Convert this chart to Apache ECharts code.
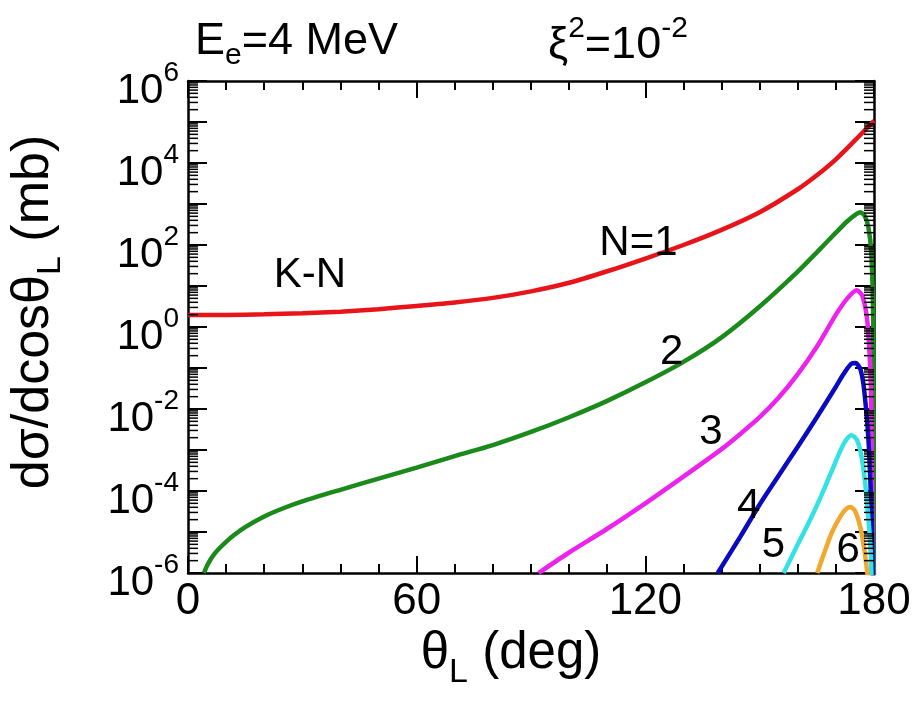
<!DOCTYPE html>
<html>
<head>
<meta charset="utf-8">
<script src="https://cdn.jsdelivr.net/npm/echarts@6/dist/echarts.min.js"></script>
<style>
html,body{margin:0;padding:0;background:#fff;}
#c{width:917px;height:711px;}
</style>
</head>
<body>
<div id="c"></div>
<script>
// ---- data (theta in degrees, cross section in mb) ----
const thetaN1 = [0,10,20,30,40,50,60,70,80,90,100,110,120,130,140,150,160,165,170,175,180];
const valN1   = [1.95,1.97,2.04,2.16,2.37,2.72,3.27,3.98,5.13,7.41,12.0,22.9,46.8,100,234,631,2290,5010,12300,35500,107000];

const thetaN2 = [4.2,5,6,7,8,10,12,15,20,25,30,40,50,60,70,80,90,100,110,120,130,140,150,160,165,170,173,175,176.4,177.5,178.5,179.3,179.8,180];
const valN2   = [1e-6,1.5e-6,2.2e-6,2.95e-6,3.8e-6,5.75e-6,8.3e-6,1.32e-5,2.4e-5,3.8e-5,5.6e-5,1.07e-4,2.0e-4,3.7e-4,7.1e-4,1.32e-3,2.75e-3,6.3e-3,1.58e-2,4.47e-2,0.141,0.56,3.16,22.4,66,200,380,537,631,525,282,63,1,1e-9];

const thetaN3 = [92,100,110,120,130,140,145,150,155,160,165,170,173,175.5,177,178.4,179.3,180];
const valN3   = [1e-6,3.16e-6,1.2e-5,5.0e-5,2.24e-4,1.05e-3,2.5e-3,6.3e-3,1.9e-2,7.1e-2,0.33,2.0,5.0,7.9,5.6,1,1e-2,1e-10];

const thetaN4 = [139,145,150,155,160,165,170,172,174,175.2,176.5,177.5,178.7,179.6,180];
const valN4   = [1e-6,7.9e-6,4.7e-5,2.4e-4,1.2e-3,6.3e-3,3.5e-2,7.1e-2,0.126,0.132,8.9e-2,2.5e-2,1e-3,3.2e-6,1e-10];

const thetaN5 = [156.3,160,163,166,169,171,172.5,174,175.5,176.8,178,179.2,180];
const valN5   = [1e-6,5e-6,1.78e-5,7.1e-5,3.2e-4,8.9e-4,1.66e-3,2.3e-3,1.78e-3,6.3e-4,7.9e-5,2.5e-6,1e-10];

const thetaN6 = [165.1,167,169,171,172.5,173.8,175,176.4,177.5,178.5];
const valN6   = [1e-6,3.2e-6,1e-5,2.24e-5,3.5e-5,4.1e-5,3.3e-5,1.32e-5,3.5e-6,6.3e-7];

const xTicks = [0,60,120,180];
const curveLabels = ['K-N','N=1','2','3','4','5','6'];
const labelTheta  = [32,118.2,126.9,137.2,147.1,153.6,173.2];
const labelVal    = [18.6,112,0.245,2.75e-3,4.1e-5,4.8e-6,3.6e-6];

const colors = ['#e8141a','#1a8a1a','#ee22ee','#0a0ac0','#33e3e3','#f0a830'];

// ---- build ----
const FONT = '"Liberation Sans", Arial, Helvetica, sans-serif';
const chart = echarts.init(document.getElementById('c'), null, {renderer:'canvas'});

function pairs(xs, ys){ return xs.map((x,i)=>[x, ys[i]]); }
const curves = [
  pairs(thetaN1,valN1), pairs(thetaN2,valN2), pairs(thetaN3,valN3),
  pairs(thetaN4,valN4), pairs(thetaN5,valN5), pairs(thetaN6,valN6)
];

// log minor tick positions (2..9 x 10^k)
const minorVals = [];
for (let k=-6;k<6;k++){ for (let m=2;m<=9;m++){ minorVals.push([0, m*Math.pow(10,k)]); } }

const xAxisCommon = {
  type:'value', min:0, max:180, interval:60,
  axisLine:{show:true, onZero:false, lineStyle:{color:'#000', width:2.5}},
  axisTick:{show:true, inside:true, length:17, lineStyle:{color:'#000', width:2}},
  minorTick:{show:true, splitNumber:6, length:9, lineStyle:{color:'#000', width:2}},
  splitLine:{show:false}
};
const yAxisCommon = {
  type:'log', logBase:10, min:1e-6, max:1e6, interval:1,
  axisLine:{show:true, onZero:false, lineStyle:{color:'#000', width:2.5}},
  axisTick:{show:true, inside:true, length:19, lineStyle:{color:'#000', width:2}},
  minorTick:{show:false},
  splitLine:{show:false}
};

const series = curves.map((d,i)=>({
  type:'line', data:d, showSymbol:false, symbol:'none', smooth:0.25, clip:true,
  lineStyle:{color:colors[i], width:4.5}, z:3, animation:false
}));

series.push({
  type:'custom', data:minorVals, silent:true, animation:false, z:4,
  renderItem:(params, api)=>{
    const v = api.value(1);
    const pL = api.coord([0, v]);
    const pR = api.coord([180, v]);
    return {type:'group', children:[
      {type:'line', shape:{x1:pL[0], y1:pL[1], x2:pL[0]+10, y2:pL[1]}, style:{stroke:'#000', lineWidth:1.5}},
      {type:'line', shape:{x1:pR[0], y1:pR[1], x2:pR[0]-10, y2:pR[1]}, style:{stroke:'#000', lineWidth:1.5}}
    ]};
  }
});

series.push({
  type:'scatter', symbolSize:0, animation:false, silent:true, z:5,
  itemStyle:{opacity:1, color:'#000'},
  data: curveLabels.map((t,i)=>({value:[labelTheta[i], labelVal[i]], name:t})),
  label:{show:true, position:'inside', formatter:p=>p.name, color:'#000', opacity:1, fontSize:42, fontFamily:FONT}
});

const option = {
  backgroundColor:'#fff',
  animation:false,
  textStyle:{fontFamily:FONT},
  title:[
    {text:'{a|E}{s|e}{a|=4 MeV}', left:190, top:8,
     textStyle:{fontWeight:'normal', rich:{a:{fontSize:45, fontFamily:FONT, color:'#000'}, s:{fontSize:30, fontFamily:FONT, color:'#000', padding:[28,0,0,0]}}}},
    {text:'{a|ξ}{s|2}{a|=10}{s|-2}', left:543, top:8,
     textStyle:{fontWeight:'normal', rich:{a:{fontSize:45, fontFamily:FONT, color:'#000', padding:[10,0,0,0]}, s:{fontSize:30, fontFamily:FONT, color:'#000', padding:[0,0,24,0]}}}}
  ],
  grid:{left:184, right:43, top:81, bottom:138, containLabel:false},
  xAxis:[
    Object.assign({}, xAxisCommon, {position:'bottom',
      axisLabel:{show:true, color:'#000', fontSize:44, fontFamily:FONT, margin:7,
        customValues: xTicks},
      name:'{a|θ}{s|L}{a| (deg)}', nameLocation:'middle', nameGap:45,
      nameTextStyle:{padding:[0,40,0,0], rich:{a:{fontSize:51, fontFamily:FONT, color:'#000'}, s:{fontSize:34, fontFamily:FONT, color:'#000', padding:[36,0,0,0]}}}
    }),
    Object.assign({}, xAxisCommon, {position:'top', axisLabel:{show:false}})
  ],
  yAxis:[
    Object.assign({}, yAxisCommon, {position:'left',
      axisLabel:{show:true, margin:9, color:'#000',
        formatter:(v)=>{ const e = Math.round(Math.log10(v)); if (e % 2 !== 0) return ''; return '{b|10}{s|' + e + '}'; },
        rich:{b:{fontSize:42, fontFamily:FONT, color:'#000', padding:[20,0,0,0]}, s:{fontSize:28, fontFamily:FONT, color:'#000', padding:[0,0,16,0]}}},
      name:'{a|dσ/dcosθ}{s|L}{a| (mb)}', nameLocation:'middle', nameGap:120, nameRotate:90,
      nameTextStyle:{padding:[0,0,0,30], rich:{a:{fontSize:52, fontFamily:FONT, color:'#000'}, s:{fontSize:34, fontFamily:FONT, color:'#000', padding:[34,0,0,0]}}}
    }),
    Object.assign({}, yAxisCommon, {position:'right', axisLabel:{show:false}})
  ],
  series: series
};
chart.setOption(option);
</script>
</body>
</html>
